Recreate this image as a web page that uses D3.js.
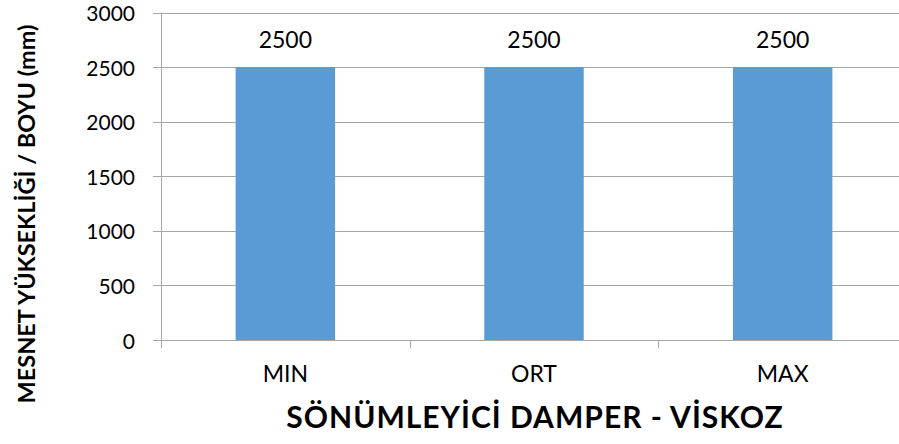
<!DOCTYPE html>
<html><head><meta charset="utf-8">
<script src="https://cdn.jsdelivr.net/npm/d3@7"></script>
<style>body{margin:0;background:#fff}svg{display:block}text{font-family:Lato,"Open Sans",sans-serif}</style>
</head><body>
<svg id="c" width="899" height="444"></svg>
<script>
const categories = ["MIN", "ORT", "MAX"];
const values = [2500, 2500, 2500];
const yTicks = [0, 500, 1000, 1500, 2000, 2500, 3000];
const xTitle = "SÖNÜMLEYİCİ DAMPER - VİSKOZ";
const yTitle = "MESNET YÜKSEKLİĞİ / BOYU (mm)";

const svg = d3.select("#c");
const L = 161, R = 907, T = 12.5, B = 340;
const x = d3.scaleBand().domain(categories).range([L, R]).paddingInner(0.6).paddingOuter(0.3);
const xb = d3.scaleBand().domain(categories).range([L, R]);
const y = d3.scaleLinear().domain([0, 3000]).range([B, T]);

// gridlines
svg.append("g").selectAll("line").data(yTicks).join("line")
  .attr("x1", L - 8).attr("x2", R).attr("y1", d => Math.round(y(d)) + 0.5).attr("y2", d => Math.round(y(d)) + 0.5)
  .attr("stroke", "#a6a6a6").attr("stroke-width", 1);
// y axis line
svg.append("line").attr("x1", L + 0.5).attr("x2", L + 0.5).attr("y1", T).attr("y2", B + 8)
  .attr("stroke", "#a6a6a6");
// x ticks between categories
svg.append("g").selectAll("line").data(categories.slice(1)).join("line")
  .attr("x1", d => Math.round(xb(d)) + 0.5).attr("x2", d => Math.round(xb(d)) + 0.5)
  .attr("y1", B).attr("y2", B + 8).attr("stroke", "#a6a6a6");

// bars
svg.append("g").selectAll("rect").data(values).join("rect")
  .attr("x", (d, i) => x(categories[i])).attr("width", x.bandwidth())
  .attr("y", d => y(d)).attr("height", d => B - y(d)).attr("fill", "#5b9bd5");

// value labels
svg.append("g").selectAll("text").data(values).join("text")
  .attr("x", (d, i) => x(categories[i]) + x.bandwidth() / 2).attr("y", d => y(d) - 19)
  .attr("text-anchor", "middle").attr("font-size", 23).attr("fill", "#000").text(d => d);

// y tick labels
svg.append("g").selectAll("text").data(yTicks).join("text")
  .attr("x", 135).attr("y", d => y(d) + 8.5).attr("text-anchor", "end")
  .attr("font-size", 21).attr("fill", "#000").text(d => d);

// x labels
svg.append("g").selectAll("text").data(categories).join("text")
  .attr("x", d => xb(d) + xb.bandwidth() / 2).attr("y", 382).attr("text-anchor", "middle")
  .attr("font-size", 23).attr("fill", "#000").text(d => d);

// axis titles
svg.append("text").attr("x", 535).attr("y", 428).attr("text-anchor", "middle")
  .attr("font-size", 30).attr("letter-spacing", 1).attr("font-weight", "bold").attr("fill", "#000").text(xTitle);
svg.append("text").attr("transform", "translate(35,214) rotate(-90)").attr("text-anchor", "middle")
  .attr("font-size", 23.5).attr("font-weight", "bold").attr("fill", "#000").text(yTitle);
</script>
</body></html>
